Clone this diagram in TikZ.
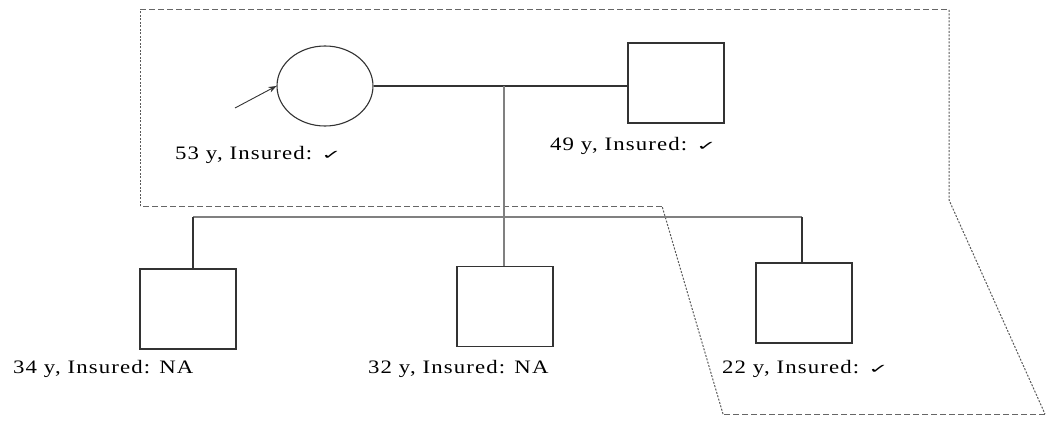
\documentclass[tikz,border=0pt]{standalone}
\usepackage{fontspec}
\setmainfont{Liberation Serif}
\newfontfamily\lblfont[LetterSpace=5]{Liberation Serif}
\newfontfamily\symfont{DejaVu Sans}
\usetikzlibrary{shapes.geometric,arrows.meta}
\newcommand{\chk}{{\symfont\fontsize{20}{20}\selectfont\scalebox{1}[0.65]{✓}}}
\newcommand{\lbltext}[1]{\scalebox{1.2}[1]{#1}}
\tikzset{
  person/.style={draw=black!80, line width=1.1pt, fill=white, minimum width=96pt, minimum height=80pt, inner sep=0pt},
  female/.style={person, ellipse},
  male/.style={person, rectangle},
  lbl/.style={anchor=base west, inner sep=0pt, font=\lblfont\fontsize{19}{21}\selectfont, text=black},
  mate/.style={draw=black!80, line width=1.1pt},
  kin/.style={draw=black!50, line width=1.6pt},
  hbound/.style={draw=black!60, line width=1pt, dash pattern=on 6pt off 3pt},
  vbound/.style={draw=black!65, line width=1pt, dash pattern=on 2pt off 1.5pt},
}
\begin{document}
\begin{tikzpicture}[x=1pt,y=-1pt]
\useasboundingbox (0,0) rectangle (1046,428);
% dashed boundary
\coordinate (b1) at (140,10);
\coordinate (b2) at (949,10);
\coordinate (b3) at (949,200);
\coordinate (b4) at (1045,414);
\coordinate (b5) at (723,414);
\coordinate (b6) at (662,206);
\coordinate (b7) at (140,206);
\draw[hbound] (b1) -- (b2);
\draw[vbound] (b2) -- (b3) -- (b4);
\draw[hbound] (b4) -- (b5);
\draw[vbound] (b5) -- (b6);
\draw[hbound] (b6) -- (b7);
\draw[vbound] (b7) -- (b1);
% persons
\node[female] (mother) at (325,86) {};
\node[male] (father) at (676,83) {};
\node[male] (c1) at (188,309) {};
\node[male] (c2) at (505,306.5) {};
\node[male] (c3) at (804,303) {};
% connectors
\coordinate (mid) at (504,86);
\draw[mate] (mother.east) -- (mother.east -| father.west);
\draw[kin] (mid) -- (mid |- c2.north);
\coordinate (s1) at (193,217);
\coordinate (s3) at (802,217);
\draw[kin] (s1) -- (s3);
\draw[mate] (s1) -- (s1 |- c1.north);
\draw[mate] (s3) -- (s3 |- c3.north);
\coordinate (arr) at (235,108);
\draw[mate, line width=0.9pt, -{Stealth[length=8pt,width=6pt]}] (arr) -- (mother.west);
% labels
\node[lbl] (l1) at (175,159) {\lbltext{53 y, Insured: \chk}};
\node[lbl] (l2) at (550,150) {\lbltext{49 y, Insured: \chk}};
\node[lbl] (l3) at (13,373) {\lbltext{34 y, Insured: NA}};
\node[lbl] (l4) at (368,373) {\lbltext{32 y, Insured: NA}};
\node[lbl] (l5) at (722,373) {\lbltext{22 y, Insured: \chk}};
\end{tikzpicture}
\end{document}
